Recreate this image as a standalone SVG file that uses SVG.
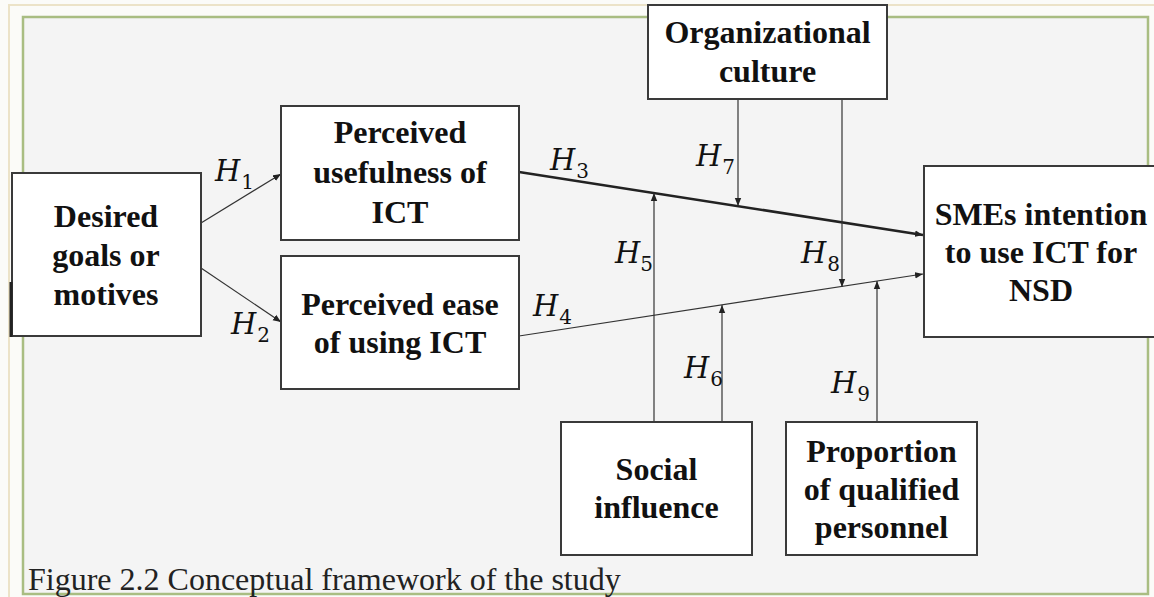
<svg xmlns="http://www.w3.org/2000/svg" width="1154" height="597" viewBox="0 0 1154 597">
<style>
.box{fill:#fff;stroke:#3a3a3a;stroke-width:2}
.lbl{font-family:"Liberation Serif","Times New Roman",serif;font-weight:bold;font-size:32px;fill:#111;text-anchor:middle}
.h{font-family:"DejaVu Serif","Liberation Serif",serif;font-style:italic;font-size:29px;fill:#111}
.h tspan{font-style:normal;font-size:20px}
.thin{stroke:#333;stroke-width:1.2;fill:none}
.thick{stroke:#222;stroke-width:2.6;fill:none}
</style>
<defs>
<marker id="ah" markerUnits="userSpaceOnUse" markerWidth="9" markerHeight="8" refX="8" refY="4" orient="auto">
<path d="M0,0.8 L8,4 L0,7.2 z" fill="#222"/>
</marker>
</defs>
<rect x="0" y="0" width="1154" height="597" fill="#fbfbf8"/>
<path d="M9,597 V5 H1154" fill="none" stroke="#ece3c8" stroke-width="2"/>
<rect x="23" y="17" width="1125" height="577" fill="#f4f4f4" stroke="#a9bd82" stroke-width="2.5"/>
<text x="28" y="590" style="font-family:'Liberation Serif','Times New Roman',serif;font-size:32px;fill:#222">Figure 2.2 Conceptual framework of the study</text>
<g id="connectors">
<line class="thin" x1="201" y1="223" x2="281" y2="174" marker-end="url(#ah)"/>
<line class="thin" x1="201" y1="268" x2="281" y2="322" marker-end="url(#ah)"/>
<line class="thick" x1="519" y1="172" x2="923" y2="235" marker-end="url(#ah)"/>
<line class="thin" x1="519" y1="336" x2="923" y2="274" marker-end="url(#ah)"/>
<line class="thin" x1="654" y1="422" x2="654" y2="193" marker-end="url(#ah)"/>
<line class="thin" x1="722" y1="422" x2="722" y2="305" marker-end="url(#ah)"/>
<line class="thin" x1="738" y1="99" x2="738" y2="206" marker-end="url(#ah)"/>
<line class="thin" x1="842" y1="99" x2="842" y2="287" marker-end="url(#ah)"/>
<line class="thin" x1="877" y1="422" x2="877" y2="281" marker-end="url(#ah)"/>
<text class="h" x="215" y="181">H<tspan dx="1" dy="8">1</tspan></text>
<text class="h" x="231" y="334">H<tspan dx="1" dy="8">2</tspan></text>
<text class="h" x="550" y="170">H<tspan dx="1" dy="8">3</tspan></text>
<text class="h" x="533" y="316">H<tspan dx="1" dy="8">4</tspan></text>
<text class="h" x="615" y="263">H<tspan dx="0" dy="8">5</tspan></text>
<text class="h" x="684" y="378">H<tspan dx="1" dy="8">6</tspan></text>
<text class="h" x="696" y="166">H<tspan dx="1" dy="8">7</tspan></text>
<text class="h" x="801" y="263">H<tspan dx="1" dy="8">8</tspan></text>
<text class="h" x="831" y="393">H<tspan dx="1" dy="8">9</tspan></text>
</g>
<g id="desired">
<rect class="box" x="12" y="173" width="189" height="163"/>
<line x1="11" y1="282" x2="11" y2="337" stroke="#222" stroke-width="3"/>
<text class="lbl" x="106" y="227">Desired</text>
<text class="lbl" x="106" y="266">goals or</text>
<text class="lbl" x="106" y="305">motives</text>
</g>
<g id="usefulness">
<rect class="box" x="281" y="106" width="238" height="134"/>
<text class="lbl" x="400" y="143">Perceived</text>
<text class="lbl" x="400" y="183">usefulness of</text>
<text class="lbl" x="400" y="223">ICT</text>
</g>
<g id="ease">
<rect class="box" x="281" y="256" width="238" height="133"/>
<text class="lbl" x="400" y="315">Perceived ease</text>
<text class="lbl" x="400" y="353">of using ICT</text>
</g>
<g id="culture">
<rect class="box" x="648" y="5" width="239" height="94"/>
<text class="lbl" x="767.5" y="43">Organizational</text>
<text class="lbl" x="767.5" y="82">culture</text>
</g>
<g id="intention">
<rect class="box" x="924" y="166" width="236" height="171"/>
<text class="lbl" x="1041" y="225">SMEs intention</text>
<text class="lbl" x="1041" y="263">to use ICT for</text>
<text class="lbl" x="1041" y="301">NSD</text>
</g>
<g id="social">
<rect class="box" x="561" y="422" width="191" height="133"/>
<text class="lbl" x="656.5" y="480">Social</text>
<text class="lbl" x="656.5" y="518">influence</text>
</g>
<g id="personnel">
<rect class="box" x="786" y="422" width="191" height="133"/>
<text class="lbl" x="881.5" y="462">Proportion</text>
<text class="lbl" x="881.5" y="500">of qualified</text>
<text class="lbl" x="881.5" y="538">personnel</text>
</g>
</svg>
